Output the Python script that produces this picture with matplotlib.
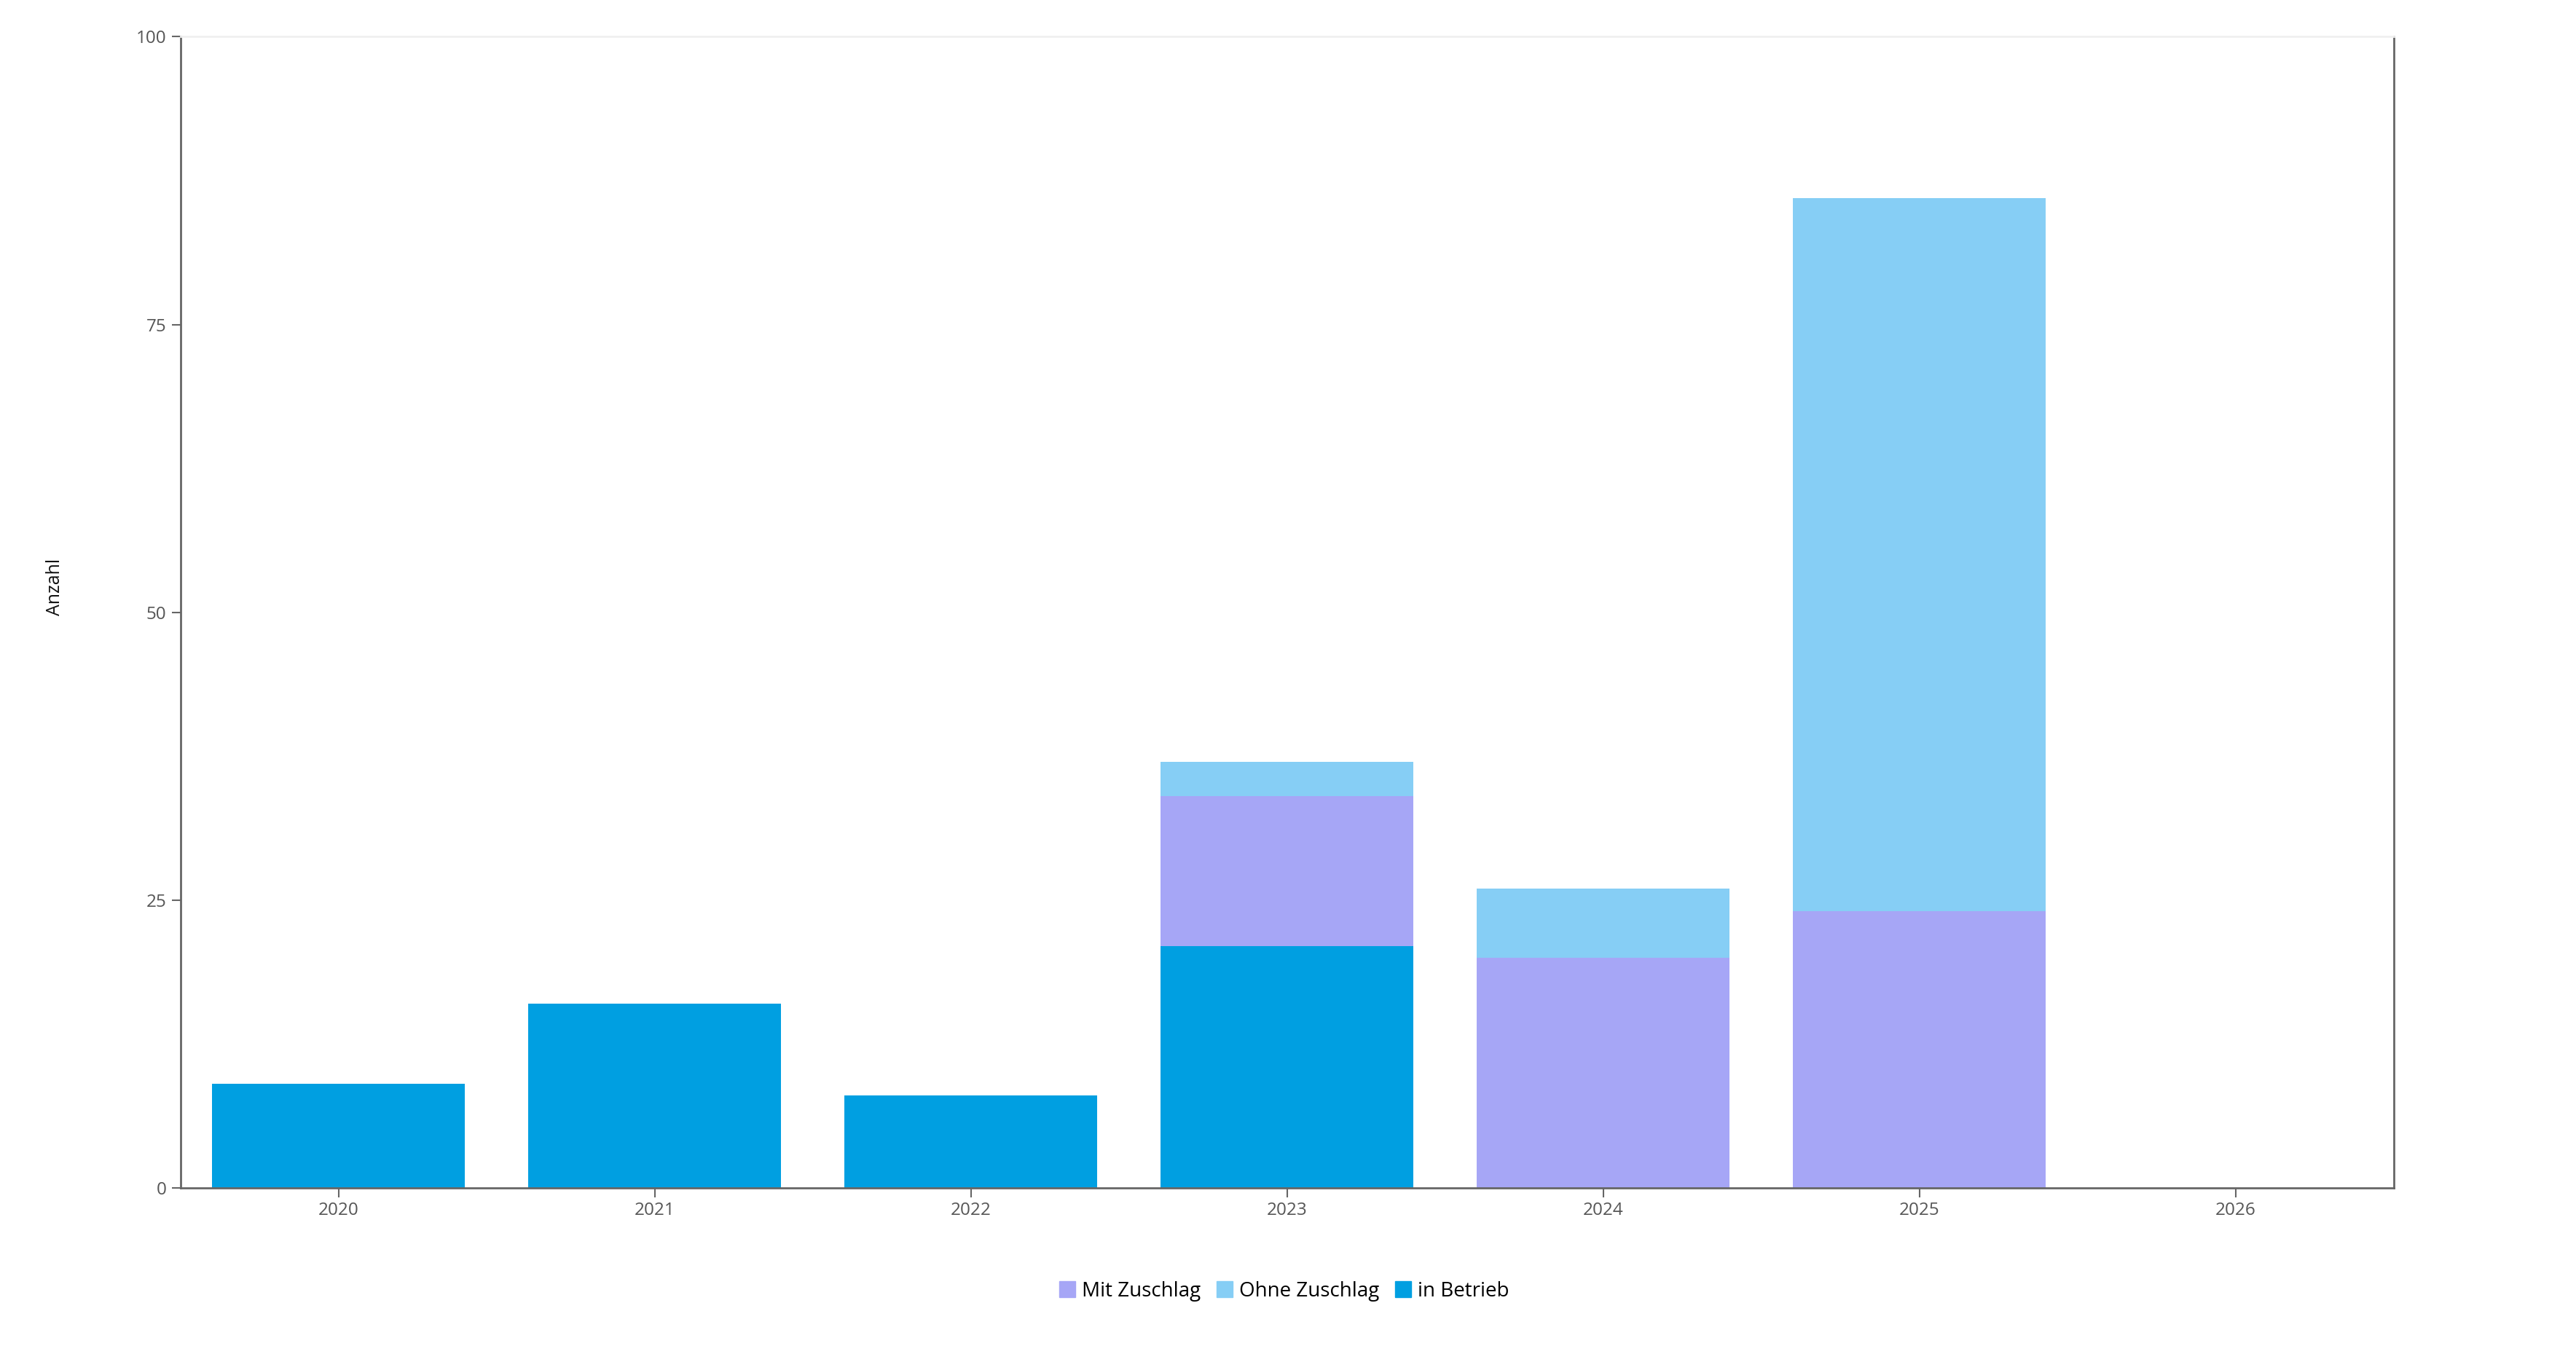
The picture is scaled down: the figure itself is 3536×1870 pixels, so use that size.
import numpy as np
import matplotlib.pyplot as plt
from matplotlib.patches import Patch

plt.rcParams['font.family'] = ['Open Sans', 'DejaVu Sans']

years = ['2020', '2021', '2022', '2023', '2024', '2025', '2026']
in_betrieb = [9, 16, 8, 21, 0, 0, 0]
mit_zuschlag = [0, 0, 0, 13, 20, 24, 0]
ohne_zuschlag = [0, 0, 0, 3, 6, 62, 0]

c_betrieb = '#009FE1'
c_mit = '#A6A6F6'
c_ohne = '#86CEF5'

fig = plt.figure(figsize=(35.36, 18.70), dpi=100)
ax = fig.add_axes([0.0701, 0.128, 0.8591, 0.845])

x = np.arange(len(years))
b1 = np.array(in_betrieb)
b2 = b1 + np.array(mit_zuschlag)
ax.bar(x, in_betrieb, width=0.8, color=c_betrieb, zorder=2)
ax.bar(x, mit_zuschlag, width=0.8, bottom=b1, color=c_mit, zorder=2)
ax.bar(x, ohne_zuschlag, width=0.8, bottom=b2, color=c_ohne, zorder=2)

ax.set_xlim(-0.5, len(years) - 0.5)
ax.set_ylim(0, 100)
ax.set_xticks(x)
ax.set_xticklabels(years)
ax.set_yticks([0, 25, 50, 75, 100])

axis_col = '#666666'
for side in ['left', 'bottom', 'right']:
    ax.spines[side].set_color(axis_col)
    ax.spines[side].set_linewidth(2)
ax.spines['top'].set_color('#f0f0f0')
ax.spines['top'].set_linewidth(2)

ax.tick_params(axis='both', colors=axis_col, labelcolor='#555555',
               labelsize=17.5, length=9, width=1.5, pad=5)

ax.set_ylabel('Anzahl', fontsize=18, color='#111111')
ax.yaxis.set_label_coords(-0.0525, 0.522)

handles = [Patch(color=c_mit, label='Mit Zuschlag'),
           Patch(color=c_ohne, label='Ohne Zuschlag'),
           Patch(color=c_betrieb, label='in Betrieb')]
fig.legend(handles=handles, loc='center', bbox_to_anchor=(0.4985, 0.052),
           ncol=3, frameon=False, fontsize=20, handlelength=0.8,
           handleheight=0.8, handletextpad=0.3, columnspacing=0.8)

fig.savefig('out.png', dpi=100)
